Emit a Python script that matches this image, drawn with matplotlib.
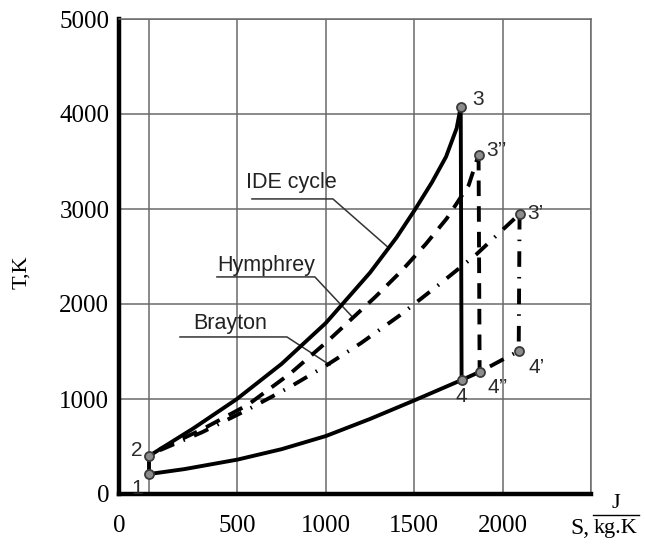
import matplotlib
matplotlib.use("Agg")
import matplotlib.pyplot as plt

# ---- data ----
ide_S = [0, 250, 497, 750, 1000, 1250, 1400, 1503, 1600, 1680, 1740, 1763]
ide_T = [400, 690, 1000, 1370, 1800, 2330, 2700, 2990, 3280, 3550, 3850, 4075]

hum_S = [60, 300, 560, 800, 1011, 1283, 1429, 1565, 1684, 1808, 1864]
hum_T = [470, 680, 940, 1270, 1610, 2080, 2350, 2630, 2900, 3250, 3570]

bra_S = [60, 300, 560, 800, 1000, 1200, 1418, 1644, 1850, 2096]
bra_T = [460, 650, 890, 1130, 1350, 1590, 1880, 2210, 2520, 2948]

low_S = [0, 200, 500, 750, 1000, 1250, 1500, 1768]
low_T = [210, 262, 362, 472, 610, 790, 985, 1200]

pt_names = ["1", "2", "3", "4", "3''", "4''", "3'", "4'"]
pt_S = [0, 0, 1763, 1768, 1864, 1870, 2096, 2091]
pt_T = [210, 400, 4075, 1200, 3570, 1285, 2948, 1505]

y_ticks = [0, 1000, 2000, 3000, 4000, 5000]
x_ticks = [500, 1000, 1500, 2000]
x_grid = [0, 500, 1000, 1500, 2000, 2500]

W, H = 645, 545
fig = plt.figure(figsize=(W / 100, H / 100), dpi=100)
ax = fig.add_axes([119 / W, 1 - 494 / H, (591 - 119) / W, (494 - 19) / H])
xmin, xmax = -170, 2500
ax.set_xlim(xmin, xmax)
ax.set_ylim(0, 5000)

gridc = "#6a6a6a"
for g in x_grid:
    ax.axvline(g, color=gridc, lw=1.1, zorder=1)
for g in y_ticks[1:]:
    ax.axhline(g, color=gridc, lw=1.1, zorder=1)

for s in ["left", "bottom"]:
    ax.spines[s].set_linewidth(3.2)
    ax.spines[s].set_color("black")
for s in ["top", "right"]:
    ax.spines[s].set_linewidth(1.1)
    ax.spines[s].set_color(gridc)

serif = "Liberation Serif"
sans = "Liberation Sans"
ax.set_xticks([xmin] + x_ticks)
ax.set_xticklabels(["0"] + [str(v) for v in x_ticks], family=serif, fontsize=18)
ax.set_yticks(y_ticks)
ax.set_yticklabels([str(v) for v in y_ticks], family=serif, fontsize=18)
ax.tick_params(axis="both", length=0)
ax.tick_params(axis="x", pad=15)
ax.tick_params(axis="y", pad=7)

lw = 2.8
dash = (4, 2.6)
dashdot = (4, 2.6, 0.4, 2.6)
# cycle curves
ax.plot(ide_S, ide_T, color="black", lw=lw, solid_joinstyle="round", zorder=3)
ax.plot(hum_S, hum_T, color="black", lw=lw, dashes=dash, zorder=3)
ax.plot(bra_S, bra_T, color="black", lw=lw, dashes=dashdot, zorder=3)
ax.plot(low_S, low_T, color="black", lw=lw, solid_joinstyle="round", zorder=3)

# 1-2 link
ax.plot([pt_S[0], pt_S[1]], [pt_T[0], pt_T[1]], color="black", lw=lw, zorder=3)
# 3-4 vertical
ax.plot([pt_S[2], pt_S[3]], [pt_T[2], pt_T[3]], color="black", lw=lw, zorder=3)
# 4-4''
ax.plot([pt_S[3], pt_S[5]], [pt_T[3], pt_T[5]], color="black", lw=lw, zorder=3)
# 3''-4''
ax.plot([pt_S[4], pt_S[5]], [pt_T[4], pt_T[5]], color="black", lw=lw,
        dashes=dash, zorder=3)
# 3'-4'
ax.plot([pt_S[6], pt_S[7]], [pt_T[6], pt_T[7]], color="black", lw=lw,
        dashes=dashdot, zorder=3)
# 4''-4'
ax.plot([pt_S[5], pt_S[7]], [pt_T[5], pt_T[7]], color="black", lw=lw,
        dashes=(0.4, 2.6, 4, 2.6), zorder=3)

ax.plot(pt_S, pt_T, "o", ms=6.5, mfc="#8c8c8c", mec="#3a3a3a", mew=1.3,
        zorder=5, linestyle="none")

# point labels
lab_off = {"1": (-12, -14, "center", "center"),
           "2": (-12, 6, "center", "center"),
           "3": (17, 7, "center", "center"),
           "3''": (8, 4, "left", "center"),
           "3'": (8, 0, "left", "center"),
           "4'": (10, -16, "left", "center"),
           "4''": (8, -16, "left", "center"),
           "4": (0, -17, "center", "center")}
for n, s, t in zip(pt_names, pt_S, pt_T):
    dx, dy, ha, va = lab_off[n]
    txt = n.replace("''", "\u2019\u2019").replace("'", "\u2019")
    ax.annotate(txt, (s, t), xytext=(dx, dy), textcoords="offset pixels",
                ha=ha, va=va, family=sans, fontsize=15, color="#2a2a2a", zorder=6)

# callouts
leadc = "#333333"
ax.text(548, 3275, "IDE cycle", family=sans, fontsize=15.5, color="#222222",
        ha="left", va="center")
ax.plot([582, 1040, 1350], [3106, 3106, 2600], color=leadc, lw=1.1, zorder=2)
ax.text(384, 2400, "Hymphrey", family=sans, fontsize=15.5, color="#222222",
        ha="left", va="center")
ax.plot([384, 938, 1150], [2285, 2285, 1864], color=leadc, lw=1.1, zorder=2)
ax.text(249, 1790, "Brayton", family=sans, fontsize=15.5, color="#222222",
        ha="left", va="center")
ax.plot([175, 780, 1023], [1653, 1653, 1358], color=leadc, lw=1.1, zorder=2)

# axis labels
fig.text(22 / W, 1 - 272 / H, "T,K", rotation=90, family=serif, fontsize=16,
         ha="center", va="center")
fig.text(580 / W, 1 - 529 / H, "S,", family=serif, fontsize=17, ha="center", va="center")
fig.text(616 / W, 1 - 503 / H, "J", family=serif, fontsize=16, ha="center", va="center")
fig.text(616 / W, 1 - 529 / H, "kg.K", family=serif, fontsize=16, ha="center", va="center")
fig.add_artist(plt.Line2D([593 / W, 639 / W], [1 - 515 / H, 1 - 515 / H],
                          color="black", lw=1.0))

fig.savefig("out.png", dpi=100)
